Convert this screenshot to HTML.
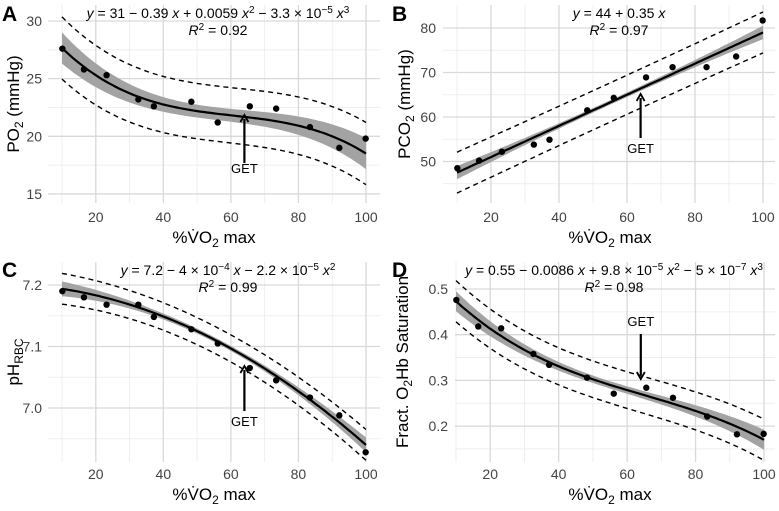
<!DOCTYPE html>
<html><head><meta charset="utf-8"><style>
html,body{margin:0;padding:0;background:#fff;}
svg{display:block;font-family:"Liberation Sans",sans-serif;}
</style></head><body>
<svg id="chart" width="779" height="511" viewBox="0 0 779 511"></svg>
<script>
const xVals = [10.1, 16.5, 23.2, 32.6, 37.2, 48.3, 56.1, 65.6, 73.4, 83.4, 92.1, 99.9];
const yA = [27.6, 25.8, 25.3, 23.2, 22.6, 23.0, 21.2, 22.6, 22.4, 20.8, 19.0, 19.8];
const yB = [48.5, 50.2, 52.2, 53.8, 54.9, 61.5, 64.3, 68.9, 71.2, 71.2, 73.6, 81.7];
const yC = [7.19, 7.18, 7.168, 7.168, 7.148, 7.128, 7.105, 7.065, 7.045, 7.017, 6.988, 6.928];
const yD = [0.476, 0.418, 0.414, 0.358, 0.334, 0.306, 0.271, 0.284, 0.262, 0.221, 0.182, 0.183];
const coefA = [31, -0.39, 0.0059, -3.25e-5];
const coefB = [44, 0.35];
const coefC = [7.2, -4e-4, -2.2e-5];
const coefD = [0.55, -0.0086, 9.8e-5, -5e-7];
const xTicks = [20, 40, 60, 80, 100];
const ticksA = [15, 20, 25, 30];
const ticksB = [50, 60, 70, 80];
const ticksC = [7.0, 7.1, 7.2];
const ticksD = [0.2, 0.3, 0.4, 0.5];
const labelsC = ["7.0", "7.1", "7.2"];
const labelsD = ["0.2", "0.3", "0.4", "0.5"];
const getX = 64;

const NS = "http://www.w3.org/2000/svg";
const svg = document.getElementById("chart");
function mk(tag, attrs, parent, name){
  const e = document.createElementNS(NS, tag);
  for (const k in attrs) e.setAttribute(k, attrs[k]);
  
  
  (parent || svg).appendChild(e);
  return e;
}
function poly(c, x){ let s=0; for(let i=0;i<c.length;i++) s+=c[i]*Math.pow(x,i); return s; }

const panels = [
  {id:"a", letter:"A", lx:2, ly:21, rect:[48,5,380,203], x10:62, x100:366, v0:30, py0:21, ppu:11.53,
   ys:yA, coef:coefA, ticks:ticksA, labels:ticksA.map(String), minor:[17.5,22.5,27.5],
   ci:[0.55,0.8], pi:[2.4,0.3], eq:'<tspan font-style="italic">y</tspan> = 31 − 0.39 <tspan font-style="italic">x</tspan> + 0.0059 <tspan font-style="italic">x</tspan><tspan dy="-5" font-size="10">2</tspan><tspan dy="5"> − 3.3 × 10</tspan><tspan dy="-5" font-size="10">−5</tspan><tspan dy="5" font-style="italic"> x</tspan><tspan dy="-5" font-size="10">3</tspan>',
   eqx:218, r2:"0.92", ylab:'PO<tspan dy="4" font-size="12">2</tspan><tspan dy="-4"> (mmHg)</tspan>', ylx:13, yly:104, tlx:42,
   get:{tip:115, tail:163, tx:168}, xly:217, xtitle:237},
  {id:"b", letter:"B", lx:392, ly:21, rect:[443,5,775,203], x10:457, x100:763, v0:80, py0:28, ppu:4.45,
   ys:yB, coef:coefB, ticks:ticksB, labels:ticksB.map(String), minor:[45,55,65,75],
   ci:[0.5,1.0], pi:[4.4,0.2], eq:'<tspan font-style="italic">y</tspan> = 44 + 0.35 <tspan font-style="italic">x</tspan>',
   eqx:619, r2:"0.97", ylab:'PCO<tspan dy="4" font-size="12">2</tspan><tspan dy="-4"> (mmHg)</tspan>', ylx:404, yly:104, tlx:436,
   get:{tip:94, tail:138, tx:148}, xly:217, xtitle:237},
  {id:"c", letter:"C", lx:2, ly:277, rect:[48,262,380,462], x10:62, x100:366, v0:7.2, py0:285, ppu:615,
   ys:yC, coef:coefC, ticks:ticksC, labels:labelsC, minor:[6.95,7.05,7.15],
   ci:[0.004,0.008], pi:[0.022,0.003], eq:'<tspan font-style="italic">y</tspan> = 7.2 − 4 × 10<tspan dy="-5" font-size="10">−4</tspan><tspan dy="5" font-style="italic"> x</tspan><tspan> − 2.2 × 10</tspan><tspan dy="-5" font-size="10">−5</tspan><tspan dy="5" font-style="italic"> x</tspan><tspan dy="-5" font-size="10">2</tspan>',
   eqx:228, r2:"0.99", ylab:'pH<tspan dy="4" font-size="12">RBC</tspan>', ylx:13, yly:362, tlx:42,
   get:{tip:366, tail:411, tx:421}, xly:474, xtitle:494},
  {id:"d", letter:"D", lx:392, ly:277, rect:[455,262,775,462], x10:456, x100:764, v0:0.5, py0:289, ppu:457,
   ys:yD, coef:coefD, ticks:ticksD, labels:labelsD, minor:[0.15,0.25,0.35,0.45],
   ci:[0.008,0.014], pi:[0.04,0.005], eq:'<tspan font-style="italic">y</tspan> = 0.55 − 0.0086 <tspan font-style="italic">x</tspan> + 9.8 × 10<tspan dy="-5" font-size="10">−5</tspan><tspan dy="5" font-style="italic"> x</tspan><tspan dy="-5" font-size="10">2</tspan><tspan dy="5"> − 5 × 10</tspan><tspan dy="-5" font-size="10">−7</tspan><tspan dy="5" font-style="italic"> x</tspan><tspan dy="-5" font-size="10">3</tspan>',
   eqx:614, r2:"0.98", ylab:'Fract. O<tspan dy="4" font-size="12">2</tspan><tspan dy="-4">Hb Saturation</tspan>', ylx:402, yly:362, tlx:448,
   get:{tip:379, tail:334, tx:321, down:true}, xly:474, xtitle:494}
];

panels.forEach(p => {
  const g = mk("g", {}, svg, "panel-" + p.id);
  const sx = v => p.x10 + (v - 10) * (p.x100 - p.x10) / 90;
  const sy = v => p.py0 + (p.v0 - v) * p.ppu;
  const [x0,y0,x1,y1] = p.rect;
  [10,30,50,70,90].forEach(v => mk("line",{x1:sx(v),x2:sx(v),y1:y0,y2:y1,stroke:"#ebebeb","stroke-width":0.8},g,"x-minor-gridline"));
  p.minor.forEach(v => { const y=sy(v); if(y>y0&&y<y1) mk("line",{x1:x0,x2:x1,y1:y,y2:y,stroke:"#ebebeb","stroke-width":0.8},g,"y-minor-gridline"); });
  xTicks.forEach(v => mk("line",{x1:sx(v),x2:sx(v),y1:y0,y2:y1,stroke:"#d9d9d9","stroke-width":1.3},g,"x-gridline"));
  p.ticks.forEach((v,i) => {
    const y = sy(v);
    mk("line",{x1:x0,x2:x1,y1:y,y2:y,stroke:"#d9d9d9","stroke-width":1.3},g,"y-gridline");
    const t = mk("text",{x:p.tlx,y:y+5,"text-anchor":"end","font-size":14,fill:"#444"},g,"y-tick-label");
    t.textContent = p.labels[i];
  });
  xTicks.forEach(v => { const t = mk("text",{x:sx(v),y:p.xly+5,"text-anchor":"middle","font-size":14,fill:"#444"},g,"x-tick-label"); t.textContent = v; });
  const xs = []; for (let v=10; v<=100.001; v+=1) xs.push(v);
  const tt = v => (v-55)/45;
  const hw = (c,v) => c[0] + c[1]*tt(v)*tt(v);
  const top = xs.map(v => [sx(v), sy(poly(p.coef,v)+hw(p.ci,v))]);
  const bot = xs.map(v => [sx(v), sy(poly(p.coef,v)-hw(p.ci,v))]).reverse();
  mk("path",{d:"M"+top.concat(bot).map(q=>q[0].toFixed(1)+","+q[1].toFixed(1)).join("L")+"Z",fill:"#a3a3a3"},g,"confidence-band");
  [1,-1].forEach(s => {
    mk("path",{d:"M"+xs.map(v=>sx(v).toFixed(1)+","+sy(poly(p.coef,v)+s*hw(p.pi,v)).toFixed(1)).join("L"),fill:"none",stroke:"#000","stroke-width":1.4,"stroke-dasharray":"5,4"},g,s>0?"upper-prediction-line":"lower-prediction-line");
  });
  mk("path",{d:"M"+xs.map(v=>sx(v).toFixed(1)+","+sy(poly(p.coef,v)).toFixed(1)).join("L"),fill:"none",stroke:"#000","stroke-width":2.2},g,"fit-line");
  xVals.forEach((x,i) => mk("circle",{cx:sx(x),cy:sy(p.ys[i]),r:3.2,fill:"#000"},g,"data-point"));
  const ax = sx(getX);
  const dir = p.get.down ? 1 : -1;
  mk("line",{x1:ax,x2:ax,y1:p.get.tail,y2:p.get.tip - dir*4,stroke:"#000","stroke-width":2.2},g,"get-arrow-shaft");
  mk("path",{d:`M${ax-4},${p.get.tip-dir*7} L${ax},${p.get.tip} L${ax+4},${p.get.tip-dir*7}`,fill:"none",stroke:"#000","stroke-width":1.8},g,"get-arrow-head");
  const gt = mk("text",{x:ax,y:p.get.tx+5,"text-anchor":"middle","font-size":13,fill:"#000"},g,"get-label"); gt.textContent="GET";
  const eq = mk("text",{x:p.eqx,y:p.rect[1]+13,"text-anchor":"middle","font-size":14,fill:"#000"},g,"fit-equation"); eq.innerHTML = p.eq;
  const r2 = mk("text",{x:p.eqx,y:p.rect[1]+30,"text-anchor":"middle","font-size":14,fill:"#000"},g,"r-squared-label");
  r2.innerHTML = '<tspan font-style="italic">R</tspan><tspan dy="-5" font-size="10">2</tspan><tspan dy="5"> = '+p.r2+'</tspan>';
  const xt = mk("text",{x:(sx(10)+sx(100))/2,y:p.xtitle+6,"text-anchor":"middle","font-size":17,fill:"#000"},g,"x-axis-title");
  xt.innerHTML = '%V\u0307O<tspan dy="4" font-size="12">2</tspan><tspan dy="-4"> max</tspan>';
  const yt = mk("text",{x:0,y:0,"text-anchor":"middle","font-size":17,fill:"#000",transform:`translate(${p.ylx+6},${p.yly}) rotate(-90)`},g,"y-axis-title");
  yt.innerHTML = p.ylab;
  const L = mk("text",{x:p.lx,y:p.ly,"font-size":21,"font-weight":"bold",fill:"#000"},g,"panel-letter"); L.textContent = p.letter;
});
</script>
</body></html>
